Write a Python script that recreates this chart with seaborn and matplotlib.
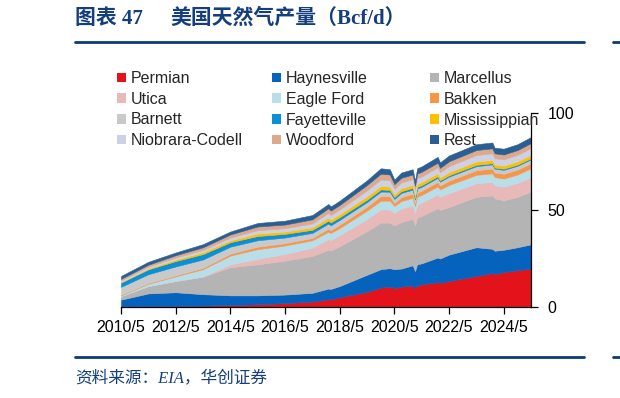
import matplotlib
matplotlib.use('Agg')
import matplotlib.pyplot as plt
from matplotlib.patches import Patch
from matplotlib.lines import Line2D
import pandas as pd
import seaborn as sns

# sample months (irregular, extra points around the dips)
dates = ["2010-05", "2011-05", "2012-05", "2013-05", "2014-05", "2015-05", "2016-05",
         "2017-05", "2017-12", "2018-01", "2018-05", "2019-05", "2019-11", "2020-03",
         "2020-05", "2020-08", "2021-01", "2021-02", "2021-03", "2021-05", "2021-12",
         "2022-01", "2022-05", "2023-05", "2023-12", "2024-01", "2024-05", "2024-11",
         "2025-05"]

# Bcf/d by play
permian = [0.3, 0.4, 0.5, 0.7, 1.0, 1.4, 2.0, 2.8, 4.0, 3.9, 5.0, 7.8, 10.0, 10.5, 9.8, 10.5, 11.0,
           9.5, 11.3, 11.6, 12.8, 12.5, 13.4, 16.0, 17.5, 17.0, 18.0, 19.0, 19.8]
haynesville = [3.5, 6.6, 7.1, 5.9, 5.0, 4.6, 4.4, 4.5, 5.5, 5.4, 5.8, 8.8, 9.5, 9.5, 9.7, 9.3, 10.5,
               9.0, 10.7, 10.9, 12.7, 12.5, 13.6, 14.8, 12.5, 12.0, 11.5, 11.8, 12.5]
marcellus = [1.8, 3.8, 5.8, 9.0, 14.5, 16.0, 17.5, 19.0, 20.0, 19.8, 20.5, 22.5, 24.0, 23.5, 22.5, 24.0,
             24.0, 23.5, 24.0, 24.5, 25.5, 25.0, 24.5, 26.0, 27.5, 27.0, 25.5, 26.0, 27.2]
utica = [0.0, 0.0, 0.0, 0.1, 1.5, 2.8, 3.5, 4.3, 5.5, 5.4, 5.8, 6.3, 6.8, 6.8, 6.5, 7.0, 6.8,
         6.5, 6.8, 6.8, 7.0, 6.8, 7.2, 7.0, 7.0, 6.8, 7.0, 7.2, 7.5]
eagle_ford = [0.4, 1.2, 2.4, 3.8, 4.5, 5.0, 4.3, 3.8, 3.8, 3.6, 3.6, 4.3, 4.5, 4.5, 3.6, 3.8, 4.0,
              3.5, 4.0, 4.0, 4.2, 3.8, 4.2, 4.3, 4.4, 4.2, 4.2, 4.3, 4.5]
bakken = [0.2, 0.3, 0.5, 0.7, 1.0, 1.3, 1.2, 1.2, 1.6, 1.5, 1.7, 2.0, 2.4, 2.3, 1.5, 2.0, 2.1,
          1.6, 2.1, 2.1, 2.3, 2.0, 2.2, 2.4, 2.5, 2.3, 2.5, 2.5, 2.6]
barnett = [4.2, 4.6, 4.6, 4.3, 3.6, 3.3, 2.9, 2.6, 2.6, 2.5, 2.5, 2.4, 2.3, 2.3, 2.1, 2.2, 2.1,
           1.8, 2.1, 2.1, 2.1, 2.0, 2.1, 2.1, 2.1, 2.0, 2.0, 2.0, 2.0]
fayetteville = [2.2, 2.5, 2.8, 2.8, 2.3, 2.2, 1.9, 1.6, 1.5, 1.5, 1.4, 1.2, 1.1, 1.0, 1.0, 0.9, 0.9,
                0.8, 0.9, 0.8, 0.8, 0.7, 0.7, 0.7, 0.6, 0.6, 0.6, 0.6, 0.6]
mississippian = [0.3, 0.5, 0.8, 1.0, 1.0, 1.3, 1.2, 1.3, 1.6, 1.5, 1.6, 1.8, 1.8, 1.7, 1.4, 1.6, 1.6,
                 1.4, 1.6, 1.6, 1.6, 1.4, 1.6, 1.7, 1.7, 1.6, 1.6, 1.7, 1.8]
niobrara = [0.8, 0.9, 1.0, 1.1, 1.4, 1.7, 1.7, 2.0, 2.4, 2.3, 2.4, 3.0, 3.3, 3.3, 2.8, 2.9, 2.9,
            2.7, 2.9, 2.9, 3.0, 2.8, 3.1, 3.3, 3.4, 3.2, 3.2, 3.3, 3.4]
woodford = [0.8, 1.0, 1.2, 1.4, 1.6, 1.9, 1.9, 2.1, 2.4, 2.3, 2.3, 2.8, 3.0, 2.9, 2.4, 2.4, 2.4,
            2.2, 2.4, 2.4, 2.4, 2.2, 2.5, 2.6, 2.6, 2.5, 2.5, 2.5, 2.6]
rest = [1.5, 1.5, 1.4, 1.6, 1.5, 1.8, 2.0, 2.2, 2.2, 2.1, 2.2, 2.4, 2.8, 2.7, 2.4, 2.7, 2.7,
        2.5, 2.7, 2.8, 3.0, 2.8, 3.0, 3.0, 3.0, 2.9, 3.0, 3.0, 3.1]

plays = ['Permian', 'Haynesville', 'Marcellus', 'Utica', 'Eagle Ford', 'Bakken',
         'Barnett', 'Fayetteville', 'Mississippian', 'Niobrara-Codell', 'Woodford', 'Rest']
colors = ['#E3131B', '#0563BE', '#B4B4B4', '#E8B9B9', '#B8DEE9', '#F7964A',
          '#C9C9C9', '#0A90D6', '#FFC000', '#CDD1E6', '#DDA98C', '#2A5F94']

tick_dates = ['2010-05', '2012-05', '2014-05', '2016-05', '2018-05', '2020-05', '2022-05', '2024-05']
tick_labels = ['2010/5', '2012/5', '2014/5', '2016/5', '2018/5', '2020/5', '2022/5', '2024/5']

df = pd.DataFrame({
    'Permian': permian, 'Haynesville': haynesville, 'Marcellus': marcellus,
    'Utica': utica, 'Eagle Ford': eagle_ford, 'Bakken': bakken, 'Barnett': barnett,
    'Fayetteville': fayetteville, 'Mississippian': mississippian,
    'Niobrara-Codell': niobrara, 'Woodford': woodford, 'Rest': rest,
}, index=pd.to_datetime(dates))

sns.set_theme(style='white')
plt.rcParams['font.family'] = ['Liberation Sans', 'DejaVu Sans']

W, H = 620, 398
fig = plt.figure(figsize=(W / 100, H / 100), dpi=100)
ax = fig.add_axes([121 / W, 91 / H, 410 / W, 194 / H])

polys = ax.stackplot(df.index, [df[p] for p in plays], colors=colors, linewidth=0.4)
for p, c in zip(polys, colors):
    p.set_edgecolor(c)

ax.set_xlim(pd.Timestamp('2010-05-01'), pd.Timestamp('2025-05-01'))
ax.set_ylim(0, 100)
ax.set_xticks(pd.to_datetime(tick_dates))
ax.set_xticklabels(tick_labels)
ax.set_yticks([0, 50, 100])

for side in ['left', 'top']:
    ax.spines[side].set_visible(False)
for side in ['right', 'bottom']:
    ax.spines[side].set_color('black')
    ax.spines[side].set_linewidth(0.9)

ax.tick_params(axis='x', bottom=True, direction='out', length=5, width=0.9,
               color='black', labelcolor='black', labelsize=11.5, pad=4)
ax.tick_params(axis='y', left=False, right=True, labelleft=False, labelright=True,
               direction='out', length=5, width=0.9, color='black',
               labelcolor='black', labelsize=11.5, pad=7)
ax.grid(False)

# legend: three columns placed by hand
col_x = [117, 272, 430]
for i, x in enumerate(col_x):
    idx = [i + 3 * r for r in range(4)]
    handles = [Patch(facecolor=colors[k], edgecolor='none') for k in idx]
    fig.legend(handles, [plays[k] for k in idx], loc='upper left',
               bbox_to_anchor=(x / W, 1 - 71 / H), frameon=False, fontsize=11.5,
               handlelength=0.55, handleheight=0.55, handletextpad=0.3,
               labelspacing=0.36, borderpad=0, borderaxespad=0)

navy = '#153E7C'
cjk = ['Liberation Serif', 'Noto Sans CJK SC']
fig.text(75 / W, 1 - 19 / H, '图表 47', color=navy, fontsize=15, fontweight='bold',
         family=cjk, va='center', ha='left')
fig.text(170 / W, 1 - 19 / H, '美国天然气产量（Bcf/d）', color=navy, fontsize=15,
         fontweight='bold', family=cjk, va='center', ha='left')
fig.text(75 / W, 1 - 378 / H, '资料来源：EIA，华创证券', color=navy, fontsize=12,
         style='italic', family=cjk, va='center', ha='left')

for y in [42, 357]:
    fig.add_artist(Line2D([75 / W, 584 / W], [1 - y / H, 1 - y / H], color='#0B3A78', lw=2))
    fig.add_artist(Line2D([613 / W, 1.0], [1 - y / H, 1 - y / H], color='#0B3A78', lw=2))

fig.savefig('out.png', dpi=100)
